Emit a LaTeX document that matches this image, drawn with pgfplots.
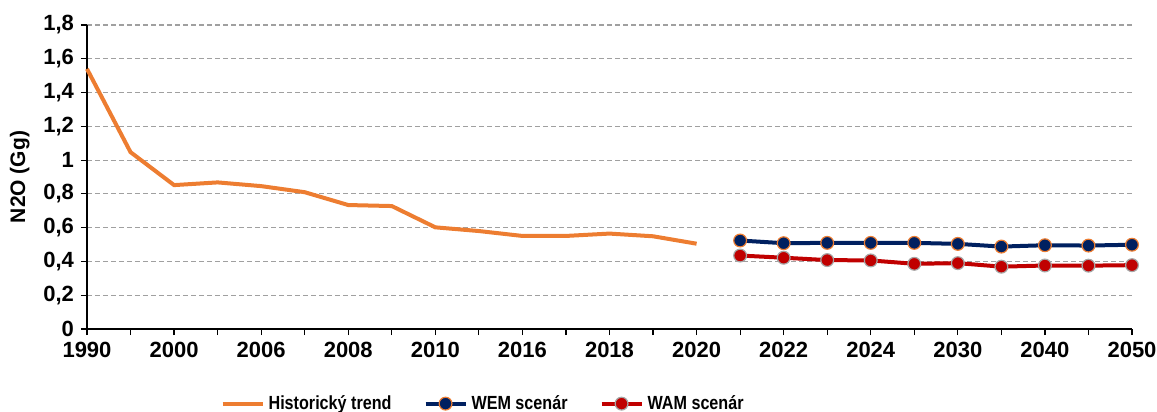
\documentclass[border=0pt]{standalone}
\usepackage{fontspec}
\setmainfont{Liberation Sans}
\newfontfamily\legfont{Liberation Sans}[FakeStretch=0.85]
\usepackage{pgfplots}
\pgfplotsset{compat=1.18}
\definecolor{histc}{HTML}{ED7D31}
\definecolor{wemc}{HTML}{002060}
\definecolor{wamc}{HTML}{C00000}
\definecolor{mrkgray}{HTML}{A6A6A6}
\definecolor{gridc}{HTML}{A0A0A0}

\begin{document}
\begin{tikzpicture}
\begin{axis}[at={(0,0)},anchor=south west,
  width=522.5pt,height=152pt,scale only axis,
  xmin=0,xmax=24,ymin=0,ymax=1.8,
  axis lines=left,axis line style={-,black,line width=0.6pt},
  xtick={0,...,24},
  xticklabels={1990,,2000,,2006,,2008,,2010,,2016,,2018,,2020,,2022,,2024,,2030,,2040,,2050},
  ytick={0,0.2,0.4,0.6,0.8,1,1.2,1.4,1.6,1.8},
  tick align=outside,major tick length=3pt,tick style={black,line width=0.6pt},
  ymajorgrids,grid style={gridc,line width=0.6pt,dash pattern=on 2.5pt off 1.5pt},
  /pgf/number format/use comma,/pgf/number format/assume math mode=true,
  tick label style={font=\fontsize{11}{13}\selectfont\bfseries},
  ylabel={N2O (Gg)},ylabel style={font=\fontsize{10.5}{12}\selectfont\bfseries},
  legend columns=3,
  legend style={draw=none,at={(0.38,-0.19)},anchor=north,
    font=\legfont\fontsize{9.5}{11}\selectfont\bfseries,
    /tikz/every even column/.append style={column sep=14pt}},
  legend image code/.code={\draw[mark repeat=2,mark phase=2,#1] plot coordinates {(0pt,0pt) (10pt,0pt) (20pt,0pt)};},
  clip=false]
\addplot[color=histc,line width=2pt,mark=none] coordinates {
  (0,1.54) (1,1.047) (2,0.852) (3,0.868) (4,0.846) (5,0.81) (6,0.734) (7,0.728)
  (8,0.602) (9,0.58) (10,0.551) (11,0.551) (12,0.565) (13,0.549) (14,0.505)};
\addplot[color=wemc,line width=2pt,mark=*,mark size=3.2pt,mark options={fill=wemc,draw=histc,line width=0.6pt}] coordinates {
  (15,0.524) (16,0.508) (17,0.51) (18,0.51) (19,0.51) (20,0.504) (21,0.488) (22,0.496) (23,0.494) (24,0.499)};
\addplot[color=wamc,line width=2pt,mark=*,mark size=3.2pt,mark options={fill=wamc,draw=mrkgray,line width=0.6pt}] coordinates {
  (15,0.435) (16,0.422) (17,0.408) (18,0.406) (19,0.386) (20,0.39) (21,0.369) (22,0.376) (23,0.375) (24,0.378)};
\legend{Historický trend,WEM scenár,WAM scenár}
\end{axis}
\pgfresetboundingbox
\path (-43.5pt,-41.5pt) rectangle (535pt,164.5pt);
\end{tikzpicture}
\end{document}
